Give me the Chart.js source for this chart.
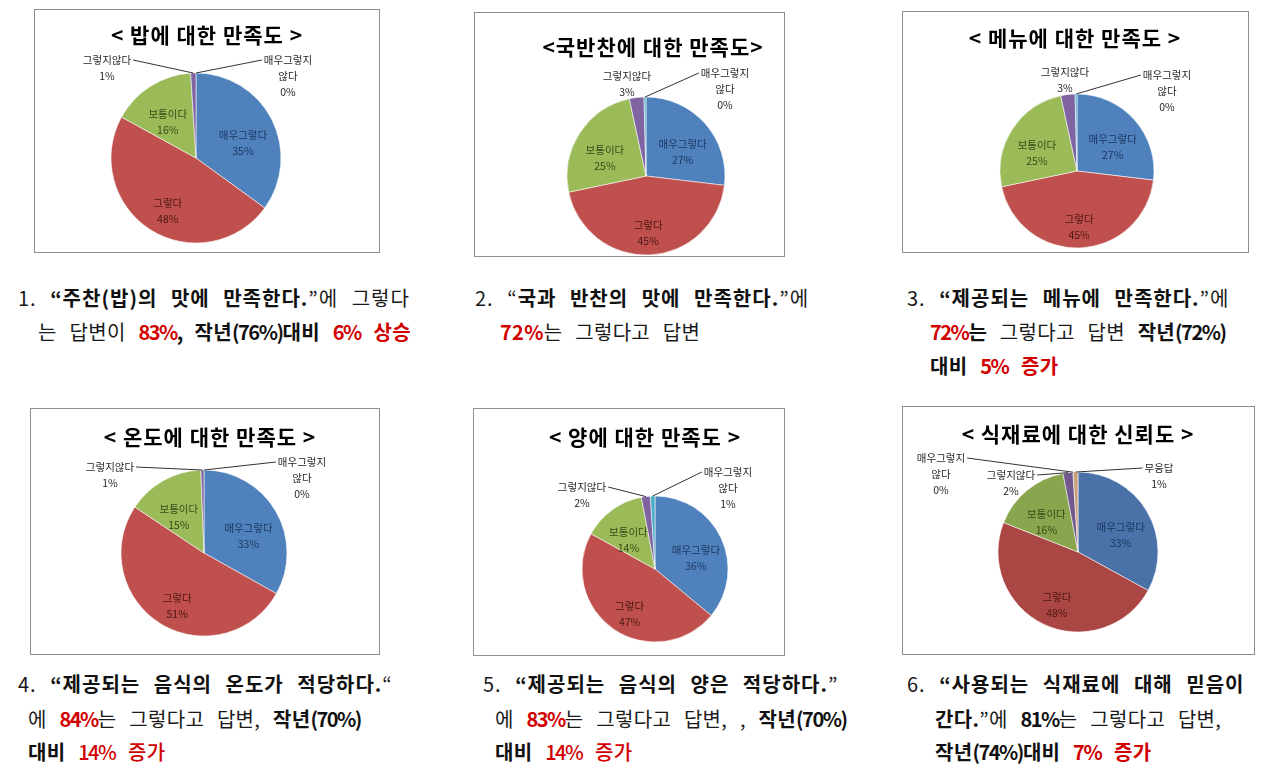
<!DOCTYPE html>
<html><head><meta charset="utf-8">
<script src="https://cdn.jsdelivr.net/npm/chart.js@4.4.1/dist/chart.umd.min.js"></script>
<style>
html,body{margin:0;padding:0;background:#fff;}
body{width:1280px;height:776px;position:relative;overflow:hidden;font-family:"Noto Sans CJK KR","Noto Sans",sans-serif;}
canvas{position:absolute;}
.frame{position:absolute;border:1px solid #8e8e8e;box-sizing:border-box;pointer-events:none;}
.ln{position:absolute;font-size:20px;white-space:pre;color:#1a1a1a;height:28px;line-height:28px;word-spacing:8px;letter-spacing:0.3px;}
.l1{letter-spacing:1px;}
.ln b{font-weight:bold;color:#111;}
.r{color:#d20000;font-weight:bold;}
.r2{color:#d20000;font-weight:500;}
.n{letter-spacing:-1.5px;}
</style></head><body>

<div class="ln l1" style="left:18px;top:284px">1. <b>“주찬(밥)의 맛에 만족한다.</b>”에 그렇다</div>
<div class="ln" style="left:38px;top:318px">는 답변이 <span class="r n">83%</span><b><span class="n">,</span> 작년<span class="n">(76%)</span>대비</b> <span class="r"><span class="n">6%</span> 상승</span></div>

<div class="ln l1" style="left:475px;top:284px">2. “<b>국과 반찬의 맛에 만족한다.</b>”에</div>
<div class="ln" style="left:500px;top:318px"><span class="r">72%</span>는 그렇다고 답변</div>

<div class="ln l1" style="left:907px;top:284px">3. <b>“제공되는 메뉴에 만족한다.</b>”에</div>
<div class="ln" style="left:930px;top:318px"><span class="r n">72%</span><b>는</b> 그렇다고 답변 <b>작년<span class="n">(72%)</span></b></div>
<div class="ln" style="left:930px;top:352px"><b>대비</b> <span class="r"><span class="n">5%</span> 증가</span></div>

<div class="ln l1" style="left:18px;top:670px">4. <b>“제공되는 음식의 온도가 적당하다.</b>“</div>
<div class="ln" style="left:28px;top:705px">에 <span class="r n">84%</span>는 그렇다고 답변, <b>작년<span class="n">(70%)</span></b></div>
<div class="ln" style="left:28px;top:738px"><b>대비</b> <span class="r2"><span class="n">14%</span> 증가</span></div>

<div class="ln l1" style="left:483px;top:670px">5. <b>“제공되는 음식의 양은 적당하다.</b>”</div>
<div class="ln" style="left:495px;top:705px">에 <span class="r n">83%</span>는 그렇다고 답변, , <b>작년<span class="n">(70%)</span></b></div>
<div class="ln" style="left:495px;top:738px"><b>대비</b> <span class="r2"><span class="n">14%</span> 증가</span></div>

<div class="ln l1" style="left:907px;top:670px">6. <b>“사용되는 식재료에 대해 믿음이</b></div>
<div class="ln" style="left:935px;top:705px"><b>간다.</b>”에 <b class="n">81%</b>는 그렇다고 답변,</div>
<div class="ln" style="left:935px;top:738px"><b>작년<span class="n">(74%)</span>대비</b> <span class="r"><span class="n">7%</span> 증가</span></div>

<script>
// ---------- DATA ----------
const categories = ['매우그렇다', '그렇다', '보통이다', '그렇지않다', '매우그렇지않다'];
const categoriesWithNoAnswer = ['매우그렇다', '그렇다', '보통이다', '그렇지않다', '매우그렇지않다', '무응답'];

const chartTitles = [
  '< 밥에 대한 만족도 >',
  '<국반찬에 대한 만족도>',
  '< 메뉴에 대한 만족도 >',
  '< 온도에 대한 만족도 >',
  '< 양에 대한 만족도 >',
  '< 식재료에 대한 신뢰도 >'
];

const riceValues       = [35, 48, 16, 1, 0];
const sideDishValues   = [27, 45, 25, 3, 0.4];
const menuValues       = [27, 45, 25, 3, 0.4];
const temperatureValues= [33, 51, 15, 0.6, 0];
const portionValues    = [36, 47, 14, 2, 1];
const ingredientValues = [33, 48, 16, 2, 0, 1];

// ---------- STYLE / LAYOUT ----------
const paletteA = ['#4F81BD', '#C0504D', '#9BBB59', '#8064A2', '#4BACC6'];
const paletteB = ['#4A72A8', '#AA4643', '#89A54E', '#71588F', '#4198AF', '#C9A27C'];
const insideTextColors = ['#1B365F', '#4A1614', '#3A4A18'];

const layouts = [
  {box:[34,9,346,244],   c:[196,158], r:85, t:[173,26],
   out:{3:{dx:-89,dy:-98,leader:true},4:{dx:92,dy:-98,leader:true}}},
  {box:[474,12,311,245], c:[646,176], r:79, t:[179,35],
   out:{3:{dx:-19,dy:-100,leader:false},4:{dx:79,dy:-103,leader:true}}},
  {box:[902,11,347,242], c:[1077,171], r:77, t:[173,27],
   out:{3:{dx:-12,dy:-99,leader:false},4:{dx:90,dy:-96,leader:true}}},
  {box:[30,408,350,247], c:[204,553], r:83, t:[180,29],
   out:{3:{dx:-94,dy:-86,leader:true},4:{dx:98,dy:-91,leader:true}}},
  {box:[473,408,312,248], c:[655,569], r:73, t:[172,29],
   out:{3:{dx:-73,dy:-82,leader:true},4:{dx:73,dy:-97,leader:true}}},
  {box:[902,406,353,249], c:[1078,552], r:80, t:[176,28],
   out:{3:{dx:-67,dy:-77,leader:true},4:{dx:-137,dy:-94,leader:true},5:{dx:81,dy:-84,leader:true}}}
];

const seriesList = [riceValues, sideDishValues, menuValues, temperatureValues, portionValues, ingredientValues];
const labelList = [categories, categories, categories, categories, categories, categoriesWithNoAnswer];
const paletteList = [paletteA, paletteA, paletteA, paletteA, paletteA, paletteB];

function wrapName(name){
  return name.length > 5 ? [name.slice(0,5), name.slice(5)] : [name];
}

const pieLabels = {
  id: 'pieLabels',
  afterDatasetsDraw(chart, args, opts){
    const ctx = chart.ctx;
    const meta = chart.getDatasetMeta(0);
    const data = chart.data.datasets[0].data;
    const names = chart.data.labels;
    ctx.save();
    ctx.font = 'bold 21px "Noto Sans CJK KR"';
    if ('letterSpacing' in ctx) ctx.letterSpacing = '1px';
    ctx.fillStyle = '#000';
    ctx.textAlign = 'center';
    ctx.textBaseline = 'middle';
    ctx.fillText(opts.title, opts.titleX, opts.titleY);
    if ('letterSpacing' in ctx) ctx.letterSpacing = '0px';

    ctx.font = '10.5px "Noto Sans CJK KR"';
    meta.data.forEach((arc, i) => {
      const p = arc.getProps(['x','y','startAngle','endAngle','outerRadius'], true);
      const mid = (p.startAngle + p.endAngle) / 2;
      const pct = Math.round(data[i]) + '%';
      const o = opts.out[i];
      if (o) {
        const lines = wrapName(names[i]).concat([pct]);
        const lx = p.x + o.dx, ly = p.y + o.dy;
        ctx.fillStyle = '#262626';
        lines.forEach((s, k) => ctx.fillText(s, lx, ly + k * 16));
        if (o.leader) {
          const w = ctx.measureText(lines[0]).width;
          const sx = o.dx < 0 ? lx + w / 2 + 2 : lx - w / 2 - 2;
          const ex = p.x + Math.cos(mid) * p.outerRadius;
          const ey = p.y + Math.sin(mid) * p.outerRadius;
          ctx.strokeStyle = '#333';
          ctx.lineWidth = 1;
          ctx.beginPath();
          ctx.moveTo(sx, ly);
          ctx.lineTo(ex, ey);
          ctx.stroke();
        }
      } else {
        const rr = p.outerRadius * 0.62;
        const lx = p.x + Math.cos(mid) * rr;
        const ly = p.y + Math.sin(mid) * rr + p.outerRadius * 0.1;
        ctx.fillStyle = insideTextColors[i] || '#222';
        ctx.fillText(names[i], lx, ly - 7.5);
        ctx.fillText(pct, lx, ly + 8.5);
      }
    });
    ctx.restore();
  }
};

layouts.forEach((L, idx) => {
  const [bx, by, bw, bh] = L.box;
  const cv = document.createElement('canvas');
  cv.width = bw; cv.height = bh;
  cv.style.left = bx + 'px'; cv.style.top = by + 'px';
  cv.style.width = bw + 'px'; cv.style.height = bh + 'px';
  document.body.appendChild(cv);
  const fr = document.createElement('div');
  fr.className = 'frame';
  fr.style.left = bx + 'px'; fr.style.top = by + 'px';
  fr.style.width = bw + 'px'; fr.style.height = bh + 'px';
  document.body.appendChild(fr);

  const lx = L.c[0] - bx, ly = L.c[1] - by;
  const half = Math.min(lx, bw - lx, ly, bh - ly);
  new Chart(cv, {
    type: 'pie',
    data: {
      labels: labelList[idx],
      datasets: [{
        data: seriesList[idx],
        backgroundColor: paletteList[idx],
        borderColor: 'rgba(255,255,255,0.55)',
        borderWidth: 1,
        radius: L.r
      }]
    },
    options: {
      responsive: false,
      animation: false,
      devicePixelRatio: 1,
      layout: { padding: { left: lx - half, right: bw - lx - half, top: ly - half, bottom: bh - ly - half } },
      plugins: {
        legend: { display: false },
        tooltip: { enabled: false },
        title: { display: false },
        pieLabels: { title: chartTitles[idx], titleX: L.t[0], titleY: L.t[1], out: L.out }
      }
    },
    plugins: [pieLabels]
  });
});
</script>
</body></html>
